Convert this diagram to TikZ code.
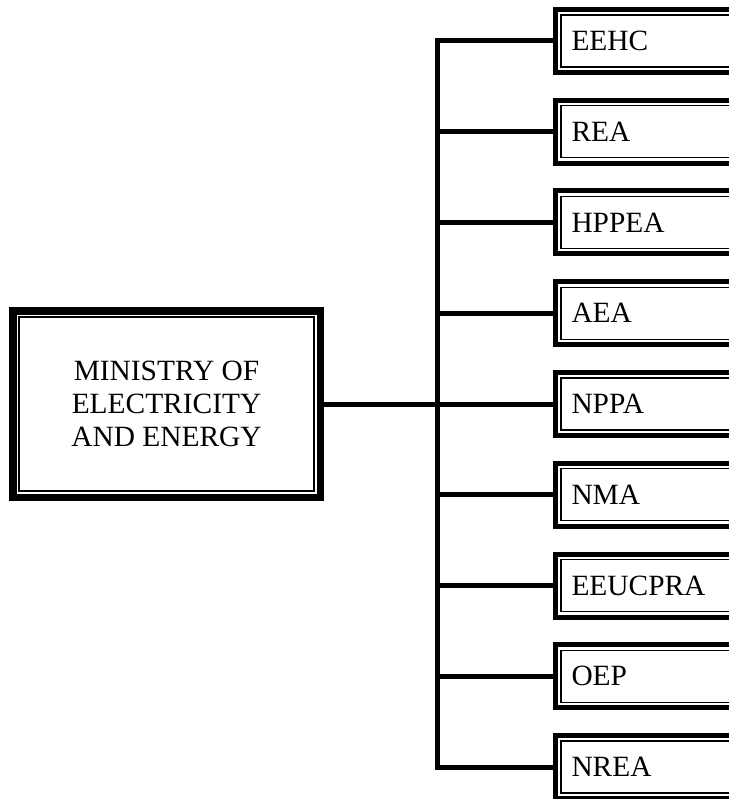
\documentclass[tikz,border=0pt]{standalone}
\usepackage{fontspec}
\setmainfont{Liberation Serif}
\usepackage{tikz}
\tikzset{
  framebox/.style = {rectangle, draw=black, font=\fontsize{29.4}{32.7}\selectfont},
  ministry_n/.style = {framebox, line width=7.5pt, align=center,
    minimum width=307.5pt, minimum height=186.5pt,
    append after command={\pgfextra{\draw[line width=1.2pt]
      ([shift={(10pt,-10pt)}]\tikzlastnode.north west) rectangle
      ([shift={(-10pt,10pt)}]\tikzlastnode.south east);}}},% ministere
  agency_n/.style = {framebox, line width=5pt, anchor=west, align=left,
    text width=170pt, inner xsep=16pt, minimum height=63pt,
    append after command={\pgfextra{\draw[line width=1.4pt]
      ([shift={(8pt,-8pt)}]\tikzlastnode.north west) rectangle
      ([shift={(-8pt,8pt)}]\tikzlastnode.south east);}}},% agence
  conn/.style = {line width=5pt, line join=miter}
}
\begin{document}
\begin{tikzpicture}[x=1pt,y=-1pt]
  \useasboundingbox (0,0) rectangle (728,799);
  \node [ministry_n] (ministry) at (166.5,404)
    {MINISTRY OF\\ELECTRICITY\\AND ENERGY};
  \coordinate (bus) at (437.5,0);
  \foreach \name [count=\i] in {EEHC,REA,HPPEA,AEA,NPPA,NMA,EEUCPRA,OEP,NREA}
    \node [agency_n] (b\i) at (553,{41+90.75*(\i-1)}) {\name};
  % bus
  \draw [conn] (b1.west) -- (b1.west -| bus) -- (b9.west -| bus) -- (b9.west);
  \foreach \i in {2,...,8}
    \draw [conn] (b\i.west -| bus) -- (b\i.west);
  \draw [conn] (ministry.east) -- (ministry.east -| bus);
\end{tikzpicture}
\end{document}
